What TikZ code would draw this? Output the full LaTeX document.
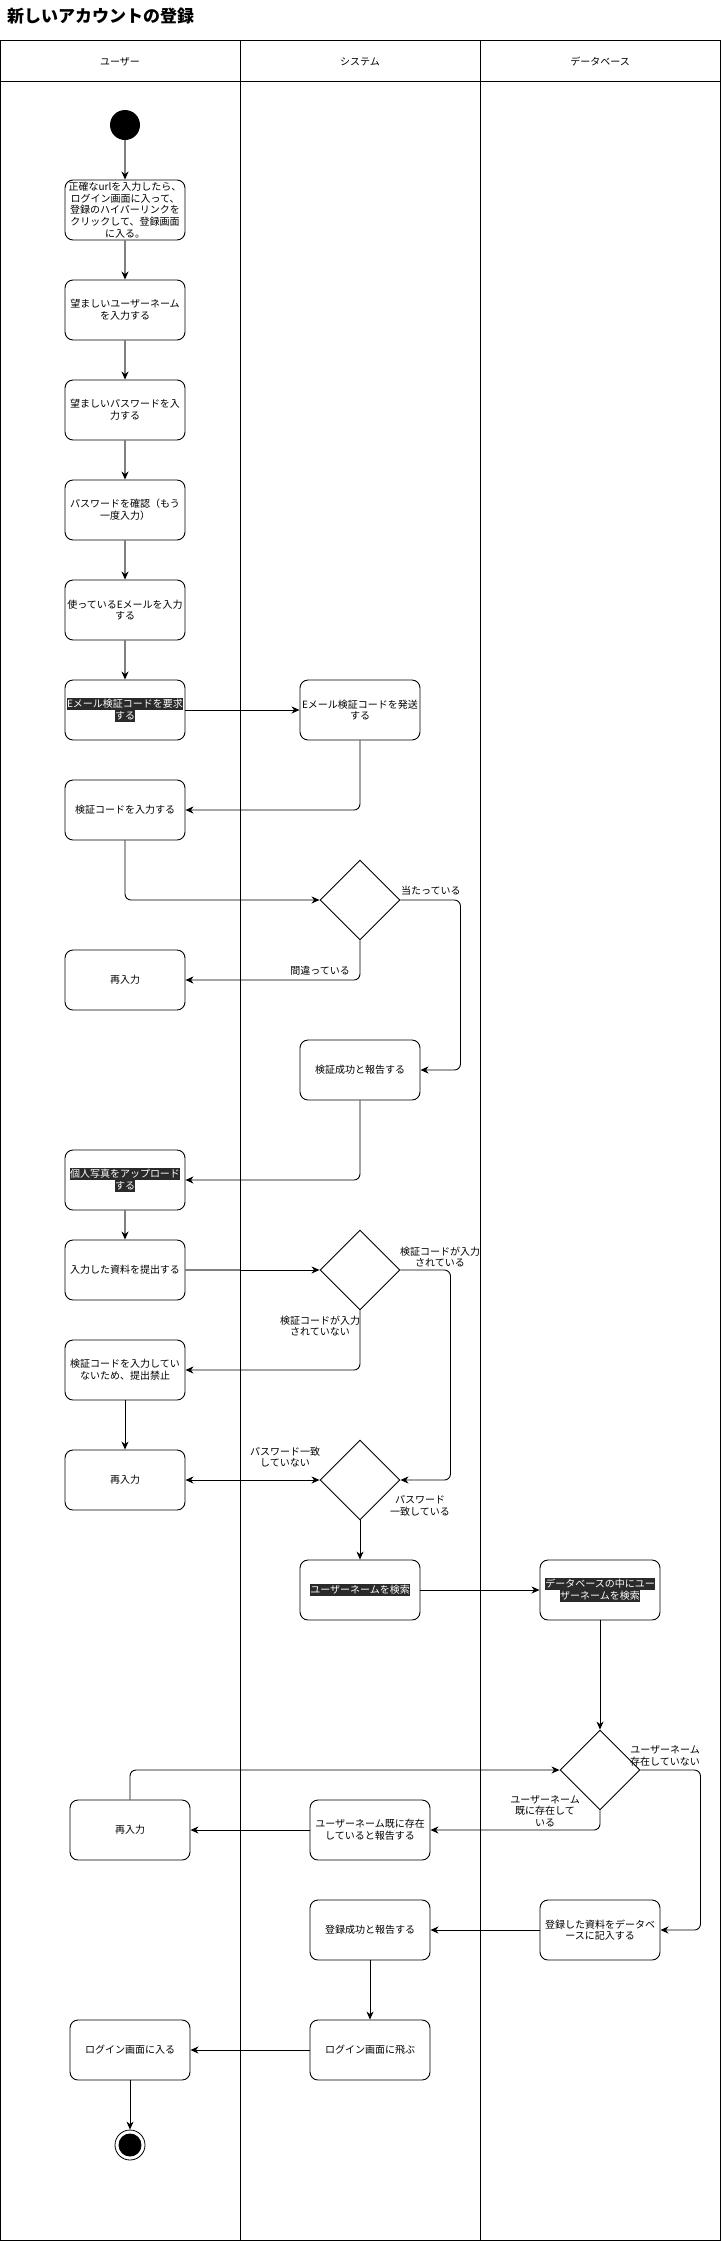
\documentclass[tikz,border=0pt]{standalone}
\usepackage{fontspec}
\setmainfont{Noto Sans CJK JP}
\usetikzlibrary{shapes.geometric,arrows.meta}
\definecolor{hlbg}{RGB}{42,42,42}
\definecolor{edgegray}{RGB}{128,128,128}
\newcommand\hlbox[1]{{\setlength{\fboxsep}{0pt}\colorbox{hlbg}{\color{white}\rule[-2.7pt]{0pt}{11.7pt}#1}}}
\tikzset{
  lane/.style={line width=0.9pt},
  act/.style={draw, line width=0.9pt, rectangle, rounded corners=8pt, minimum width=120pt, minimum height=60pt, inner sep=0pt, align=center, font=\fontsize{10}{11.7}\selectfont},
  dec/.style={draw, line width=0.9pt, diamond, minimum width=80pt, minimum height=80pt, inner sep=0pt},
  lbl/.style={inner sep=0pt, align=center, font=\fontsize{10}{11.7}\selectfont},
  lanetitle/.style={inner sep=0pt, font=\fontsize{10}{12}\selectfont},
  arr/.style={line width=0.9pt, -{Stealth[length=8pt,width=7pt,inset=2.5pt]}},
  arrboth/.style={line width=0.9pt, {Stealth[length=8pt,width=7pt,inset=2.5pt]}-{Stealth[length=8pt,width=7pt,inset=2.5pt]}},
  garr/.style={line width=1.3pt, draw=edgegray, -{Stealth[length=8pt,width=7pt,inset=2.5pt,color=black]}},
  gline/.style={line width=1.3pt, draw=edgegray},
  rc/.style={rounded corners=6pt},
}
\begin{document}
\begin{tikzpicture}[x=1pt,y=-1pt]
\useasboundingbox (0,0) rectangle (721,2241);
% title
\node[inner sep=0pt, anchor=west, font=\fontsize{17}{20}\selectfont\bfseries] (title) at (7,16) {新しいアカウントの登録};
% swimlanes
\draw[lane] (0.5,40.6) rectangle (720.5,2240.5);
\draw[lane] (0.5,81.5) -- (720.5,81.5);
\draw[lane] (240,40.6) -- (240,2240.5);
\draw[lane] (480,40.6) -- (480,2240.5);
\node[lanetitle] (hU) at (120,62) {ユーザー};
\node[lanetitle] (hS) at (360,62) {システム};
\node[lanetitle] (hD) at (600,62) {データベース};
% nodes
\node[circle, fill=black, minimum size=30pt, inner sep=0pt] (start) at (125,125) {};
\node[act] (b1) at (125,210) {正確なurlを入力したら、\\ログイン画面に入って、\\登録のハイパーリンクを\\クリックして、登録画面\\に入る。};
\node[act] (b2) at (125,310) {望ましいユーザーネーム\\を入力する};
\node[act] (b3) at (125,410) {望ましいパスワードを入\\力する};
\node[act] (b4) at (125,510) {パスワードを確認（もう\\一度入力）};
\node[act] (b5) at (125,610) {使っているEメールを入力\\する};
\node[act] (b6) at (125,710) {\hlbox{Eメール検証コードを要求}\\\hlbox{する}};
\node[act] (s1) at (360,710) {Eメール検証コードを発送\\する};
\node[act] (b7) at (125,810) {検証コードを入力する};
\node[dec] (d1) at (360,900) {};
\node[act] (r1) at (125,980) {再入力};
\node[act] (s2) at (360,1070) {検証成功と報告する};
\node[act] (b8) at (125,1180) {\hlbox{個人写真をアップロード}\\\hlbox{する}};
\node[act] (b9) at (125,1270) {入力した資料を提出する};
\node[dec] (d2) at (360,1270) {};
\node[act] (b10) at (125,1370) {検証コードを入力してい\\ないため、提出禁止};
\node[act] (r2) at (125,1480) {再入力};
\node[dec] (d3) at (360,1480) {};
\node[act] (s3) at (360,1590) {\hlbox{ユーザーネームを検索}};
\node[act] (db1) at (600,1590) {\hlbox{データベースの中にユー}\\\hlbox{ザーネームを検索}};
\node[dec] (d4) at (600,1770) {};
\node[act] (s4) at (370,1830) {ユーザーネーム既に存在\\していると報告する};
\node[act] (r3) at (130,1830) {再入力};
\node[act] (db2) at (600,1930) {登録した資料をデータベ\\ースに記入する};
\node[act] (s5) at (370,1930) {登録成功と報告する};
\node[act] (s6) at (370,2050) {ログイン画面に飛ぶ};
\node[act] (u) at (130,2050) {ログイン画面に入る};
\node[circle, draw, line width=0.8pt, minimum size=30pt, inner sep=0pt] (end) at (130,2145) {};
\fill (end.center) circle (11.5);
% labels
\node[lbl, anchor=west] (l1) at (401,891) {当たっている};
\node[lbl, anchor=east] (l2) at (350,971) {間違っている};
\node[lbl] (l3) at (440,1257) {検証コードが入力\\されている};
\node[lbl] (l4) at (320,1326) {検証コードが入力\\されていない};
\node[lbl] (l5) at (285,1457) {パスワード一致\\していない};
\node[lbl] (l6) at (420,1506) {パスワード\\一致している};
\node[lbl] (l7) at (665,1756) {ユーザーネーム\\存在していない};
\node[lbl] (l8) at (545,1811) {ユーザーネーム\\既に存在して\\いる};
% connectors
\draw[garr] (start) -- (b1);
\draw[garr] (b1) -- (b2);
\draw[garr] (b2) -- (b3);
\draw[garr] (b3) -- (b4);
\draw[garr] (b4) -- (b5);
\draw[garr] (b5) -- (b6);
\draw[arr] (b6) -- (s1);
\draw[arr,rc] (s1.south) |- (b7.east);
\draw[arr,rc] (b7.south) |- (d1.west);
\draw[arr,rc] (d1.east) -- ++(60,0) |- (s2.east);
\draw[arr,rc] (d1.south) |- (r1.east);
\draw[arr,rc] (s2.south) |- (b8.east);
\draw[garr] (b8) -- (b9);
\coordinate (c9) at (240,1270);
\draw[gline] (b9.east) -- (c9);
\draw[arr] (c9) -- (d2.west);
\draw[arr,rc] (d2.east) -- ++(50,0) |- (d3.east);
\draw[arr,rc] (d2.south) |- (b10.east);
\draw[arr] (b10) -- (r2);
\draw[arrboth] (d3.west) -- (r2.east);
\draw[arr] (d3) -- (s3);
\draw[arr] (s3) -- (db1);
\draw[arr] (db1) -- (d4);
\draw[arr,rc] (d4.east) -- ++(60,0) |- (db2.east);
\draw[arr,rc] (d4.south) |- (s4.east);
\draw[arr] (s4) -- (r3);
\draw[arr,rc] (r3.north) |- (d4.west);
\draw[arr] (db2) -- (s5);
\draw[arr] (s5) -- (s6);
\draw[arr] (s6) -- (u);
\draw[arr] (u) -- (end);
\end{tikzpicture}
\end{document}
